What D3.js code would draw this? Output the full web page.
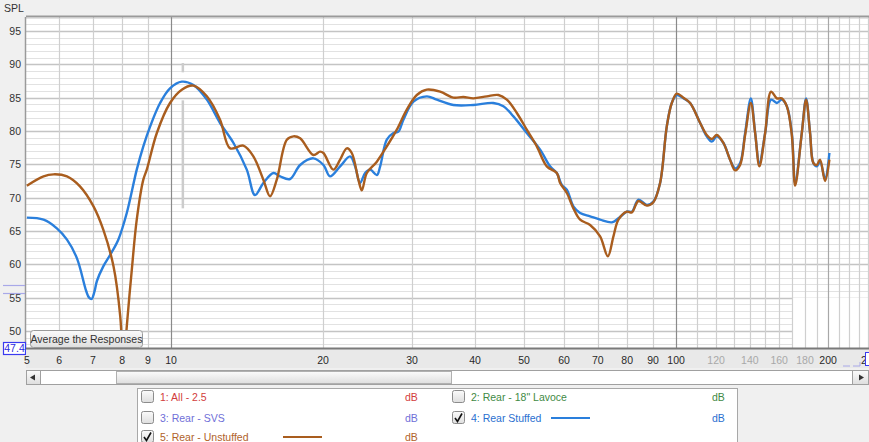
<!DOCTYPE html>
<html><head><meta charset="utf-8">
<script src="https://cdn.jsdelivr.net/npm/d3@7"></script>
<style>
html,body{margin:0;padding:0;background:#f0f0f0;overflow:hidden}
svg{display:block;font-family:"Liberation Sans",Arial,sans-serif}
</style>
</head><body>
<svg id="c" width="869" height="442"></svg>
<script>
// ---- data (frequency in Hz, SPL in dB) ----
const freqStuffed = [5.18,5.59,5.94,6.22,6.51,6.79,6.88,6.96,7.05,7.13,7.34,7.57,7.86,8.17,8.55,8.81,9.09,9.51,9.95,10.5,11.07,11.77,12.5,13.29,14.12,14.66,15.23,15.94,16.44,17.2,18.01,19.13,20.03,20.64,21.61,22.62,23.14,23.67,24.22,24.78,25.55,25.94,26.74,27.56,28.19,28.84,30.19,32.09,33.59,36.22,39.69,43.47,45.5,47.63,50.62,53.8,56.3,58.05,59.39,60.76,62.61,64.56,67.57,70.72,74.61,76.88,79.9,81.74,84.23,87.52,90.16,92.97,95.85,98.06,100.3,103.4,106.6,111.6,115.0,117.7,120.4,124.1,127.9,130.9,133.9,137.0,140.6,143.4,146.2,150.1,154.2,158.3,161.9,165.7,169.5,172.1,177.4,180.9,184.2,187.0,189.9,192.8,197.2,201.2];
const splStuffed  = [67.0,66.7,65.4,63.7,60.9,56.0,55.0,54.8,55.9,57.5,59.7,61.4,63.7,67.7,74.2,77.7,80.7,84.2,86.4,87.4,86.9,84.7,81.2,78.2,74.2,70.4,72.2,73.7,73.2,72.8,74.9,75.9,74.9,73.2,74.7,76.2,74.7,72.2,73.7,74.2,73.4,74.7,78.7,79.7,79.9,81.7,84.4,85.2,84.7,83.9,83.9,84.2,83.7,82.2,79.7,77.2,74.7,73.7,71.9,71.2,68.7,67.7,67.2,66.7,66.3,66.9,67.9,67.9,69.7,68.9,69.4,72.2,80.7,84.2,85.4,84.9,84.2,81.2,79.2,78.4,79.2,78.2,75.7,74.4,75.2,79.7,84.9,79.7,75.2,79.7,84.7,84.2,84.7,83.7,79.7,72.2,79.7,84.9,79.7,75.2,74.7,75.4,72.9,76.7];

const freqUnstuffed = [5.18,5.59,5.85,6.22,6.6,7.02,7.34,7.69,7.93,8.05,8.17,8.36,8.55,8.81,8.95,9.37,9.95,10.5,11.07,11.77,12.5,13.09,13.9,14.55,15.23,15.7,16.19,16.95,17.47,18.01,19.13,19.72,20.03,20.96,21.61,22.28,22.79,23.49,23.86,24.41,25.55,26.74,27.99,29.29,30.66,32.09,34.1,36.22,37.91,39.69,42.18,44.48,46.22,48.38,50.62,52.99,55.46,58.05,58.93,60.76,62.61,64.56,67.57,70.72,73.26,75.15,76.88,79.9,81.74,84.23,87.52,90.16,92.97,95.85,98.06,100.3,103.4,106.6,111.6,115.0,117.7,120.4,124.1,127.9,130.9,133.9,137.0,140.6,143.4,146.2,150.1,154.2,158.3,161.9,165.7,169.5,172.1,177.4,180.9,184.2,187.0,189.9,192.8,197.2,201.2];
const splUnstuffed  = [71.8,73.2,73.5,73.2,71.7,68.7,65.2,59.7,52.2,44.0,50.7,59.2,66.7,72.7,74.2,79.7,84.2,86.2,86.8,85.2,81.7,77.4,77.8,76.2,72.7,70.2,72.7,78.7,79.2,78.9,76.4,76.9,76.7,74.2,75.7,77.4,76.7,72.7,71.1,73.7,75.4,77.7,80.2,83.2,85.4,86.2,85.9,85.0,85.1,84.9,85.2,85.4,84.7,82.7,80.2,77.7,74.7,73.7,72.2,70.7,68.4,66.7,65.9,64.2,61.2,64.2,66.7,67.9,67.8,69.5,68.8,69.3,72.2,80.7,84.2,85.6,85.0,84.2,81.2,79.4,78.8,79.4,78.2,75.7,74.1,74.9,79.4,84.2,79.7,74.7,79.7,85.9,84.9,84.9,83.7,79.4,71.8,79.7,84.7,79.7,75.2,74.9,75.7,72.5,75.7];

const yTickValues = [50,55,60,65,70,75,80,85,90,95];
const xTickDark   = [5,6,7,8,9,10,20,30,40,50,60,70,80,90,100,200];
const xTickLight  = [120,140,160,180];
const legendNames = ["1: All - 2.5","2: Rear - 18\" Lavoce","3: Rear - SVS","4: Rear Stuffed","5: Rear - Unstuffed"];
const legendColors = ["#d23c3c","#3f8a45","#6f6fd8","#2a6fd0","#b0622a"];
const legendChecked = [false,false,false,true,true];

// ---- layout ----
const svg = d3.select("#c");
const L = 26, R = 869, T = 17, B = 348;
const x = d3.scaleLog().domain([5.16, 241]).range([L, R]);
const y = d3.scaleLinear().domain([47.45, 97.1]).range([B, T]);

// plot background
svg.append("rect").attr("x",L).attr("y",T).attr("width",R-L).attr("height",B-T).attr("fill","#fff");

// horizontal grid (1 dB minor, 5 dB major)
const hg = svg.append("g");
d3.range(48, 98).forEach(v=>{
  const major = v%5===0;
  hg.append("line").attr("x1",L).attr("x2",R)
    .attr("y1",Math.round(y(v))+0.5).attr("y2",Math.round(y(v))+0.5)
    .attr("stroke", major?"#c4c4c4":"#e2e2e2").attr("stroke-width", major?1.6:1);
});
// blank patch at lower right
svg.append("rect").attr("x",793).attr("y",298).attr("width",R-793).attr("height",B-298).attr("fill","#fff");

// vertical grid
const vMinor = [6,7,8,9,20,30,40,50,60,70,80,90,110,120,130,140,150,160,170,180,190,210,220,230,240];
const vg = svg.append("g");
vMinor.forEach(f=>{
  vg.append("line").attr("x1",Math.round(x(f))+0.5).attr("x2",Math.round(x(f))+0.5)
    .attr("y1",T).attr("y2",B).attr("stroke","#cfcfcf").attr("stroke-width",1.2);
});
[[10,"#8a8a8a"],[100,"#8a8a8a"],[200,"#a8a8a8"]].forEach(([f,c])=>{
  vg.append("line").attr("x1",Math.round(x(f))+0.5).attr("x2",Math.round(x(f))+0.5)
    .attr("y1",T).attr("y2",B).attr("stroke",c).attr("stroke-width",1.2);
});
// cursor marker near 10.5 Hz
vg.append("line").attr("x1",x(10.55)).attr("x2",x(10.55)).attr("y1",y(90.2)).attr("y2",y(88.8))
  .attr("stroke","#cccccc").attr("stroke-width",2.5);
vg.append("line").attr("x1",x(10.55)).attr("x2",x(10.55)).attr("y1",y(84.6)).attr("y2",y(68.4))
  .attr("stroke","#cccccc").attr("stroke-width",2.5);

// plot frame
svg.append("line").attr("x1",L).attr("x2",R).attr("y1",T-0.5).attr("y2",T-0.5).attr("stroke","#9a9a9a").attr("stroke-width",2);
svg.append("line").attr("x1",L-0.5).attr("x2",L-0.5).attr("y1",T).attr("y2",B).attr("stroke","#9a9a9a").attr("stroke-width",1.5);

// clip
svg.append("clipPath").attr("id","clip").append("rect").attr("x",L).attr("y",T).attr("width",R-L).attr("height",B-T);

const line = d3.line().x(d=>x(d[0])).y(d=>y(d[1])).curve(d3.curveCatmullRom.alpha(0.5));
const stuffed = freqStuffed.map((f,i)=>[f, splStuffed[i]]);
const unstuffed = freqUnstuffed.map((f,i)=>[f, splUnstuffed[i]]);
const pg = svg.append("g").attr("clip-path","url(#clip)");
pg.append("path").datum(stuffed).attr("d",line).attr("fill","none").attr("stroke","#2a7fdc").attr("stroke-width",2.4).attr("stroke-linejoin","round");
pg.append("path").datum(unstuffed).attr("d",line).attr("fill","none").attr("stroke","#a95d1e").attr("stroke-width",2.4).attr("stroke-linejoin","round");

// Y axis labels
svg.append("text").attr("x",4).attr("y",12).attr("font-size",10.5).attr("fill","#333").text("SPL");
const ya = svg.append("g");
yTickValues.forEach(v=>{
  ya.append("text").attr("x",21).attr("y",y(v)+4).attr("text-anchor","end")
    .attr("font-size",10.5).attr("fill","#333").text(v);
});
// left cursor markers
[285.5, 293.5].forEach(yy=>svg.append("line").attr("x1",3).attr("x2",25).attr("y1",yy).attr("y2",yy).attr("stroke","#a8a8e8").attr("stroke-width",1.2));
// value box
svg.append("rect").attr("x",3.5).attr("y",342.5).attr("width",22).attr("height",12).attr("fill","#fff").attr("stroke","#3a3af0").attr("stroke-width",1.2);
svg.append("text").attr("x",14.5).attr("y",352).attr("text-anchor","middle").attr("font-size",10.5).attr("fill","#2a2ae0").text("47.4");

// X axis strip
svg.append("rect").attr("x",L).attr("y",B).attr("width",R-L).attr("height",20).attr("fill","#e9e9e9");
svg.append("line").attr("x1",L).attr("x2",R).attr("y1",B+0.5).attr("y2",B+0.5).attr("stroke","#7a7a7a").attr("stroke-width",2);
const xa = svg.append("g");
xTickDark.forEach(f=>{
  xa.append("text").attr("x",Math.max(x(f),27)).attr("y",364).attr("text-anchor","middle")
    .attr("font-size",10.5).attr("fill","#2a2a2a").text(f);
});
xTickLight.forEach(f=>{
  xa.append("text").attr("x",x(f)).attr("y",364).attr("text-anchor","middle")
    .attr("font-size",10.5).attr("fill","#a8a8a8").text(f);
});
xa.append("text").attr("x",861).attr("y",364).attr("font-size",10.5).attr("fill","#2a2a2a").text("2");
svg.append("rect").attr("x",865.5).attr("y",352.5).attr("width",10).attr("height",13).attr("fill","#fff").attr("stroke","#3a3af0");
svg.append("path").attr("d","M843,366H850M853,366H860M860,366V362").attr("stroke","#a8a8e8").attr("fill","none");

// Average the Responses button
const btn = svg.append("g");
const grad = svg.append("defs").append("linearGradient").attr("id","bg").attr("x1",0).attr("x2",0).attr("y1",0).attr("y2",1);
grad.append("stop").attr("offset","0").attr("stop-color","#fbfbfb");
grad.append("stop").attr("offset","1").attr("stop-color","#dedede");
btn.append("rect").attr("x",30.5).attr("y",330.5).attr("width",112).attr("height",17).attr("rx",3)
  .attr("fill","url(#bg)").attr("stroke","#9a9a9a");
btn.append("text").attr("x",86.5).attr("y",343).attr("text-anchor","middle").attr("font-size",10.5).attr("fill","#333").text("Average the Responses");

// scrollbar
const sb = svg.append("g");
sb.append("rect").attr("x",26.5).attr("y",370.5).attr("width",842).attr("height",14).attr("fill","#fff").attr("stroke","#a0a0a0");
sb.append("rect").attr("x",26.5).attr("y",370.5).attr("width",14).attr("height",14).attr("fill","url(#bg)").attr("stroke","#a0a0a0");
sb.append("path").attr("d","M30,377.5L35,374.5V380.5Z").attr("fill","#333");
sb.append("rect").attr("x",116.5).attr("y",371.5).attr("width",335).attr("height",12).attr("fill","url(#bg)").attr("stroke","#b0b0b0");
sb.append("rect").attr("x",852.5).attr("y",370.5).attr("width",16).attr("height",14).attr("fill","url(#bg)").attr("stroke","#a0a0a0");
sb.append("path").attr("d","M864,377.5L859,374.5V380.5Z").attr("fill","#333");

// legend panel
const lg = svg.append("g");
lg.append("rect").attr("x",137.5).attr("y",388.5).attr("width",600).attr("height",60).attr("fill","#fff").attr("stroke","#a8a8a8");
const rowsY = [397, 418, 437];
const colX = [141, 452];
const dbX = [405, 712];
legendNames.forEach((name,i)=>{
  const col = i%2, row = Math.floor(i/2);
  const cy = rowsY[row], cx = colX[col];
  lg.append("rect").attr("x",cx+0.5).attr("y",cy-6.5).attr("width",12).attr("height",12).attr("rx",2)
    .attr("fill","url(#bg)").attr("stroke","#8c8c8c");
  if (legendChecked[i]) {
    lg.append("path").attr("d",`M${cx+3},${cy}L${cx+5.5},${cy+3.5}L${cx+10},${cy-4.5}`)
      .attr("fill","none").attr("stroke","#111").attr("stroke-width",1.6);
  }
  lg.append("text").attr("x",cx+19).attr("y",cy+4).attr("font-size",10.5).attr("fill",legendColors[i]).text(name);
  lg.append("text").attr("x",dbX[col]).attr("y",cy+4).attr("font-size",10.5).attr("fill",legendColors[i]).text("dB");
});
lg.append("line").attr("x1",551).attr("x2",590).attr("y1",rowsY[1]).attr("y2",rowsY[1]).attr("stroke","#2a7fdc").attr("stroke-width",2);
lg.append("line").attr("x1",283).attr("x2",322).attr("y1",rowsY[2]).attr("y2",rowsY[2]).attr("stroke","#a95d1e").attr("stroke-width",2);
</script>
</body></html>
